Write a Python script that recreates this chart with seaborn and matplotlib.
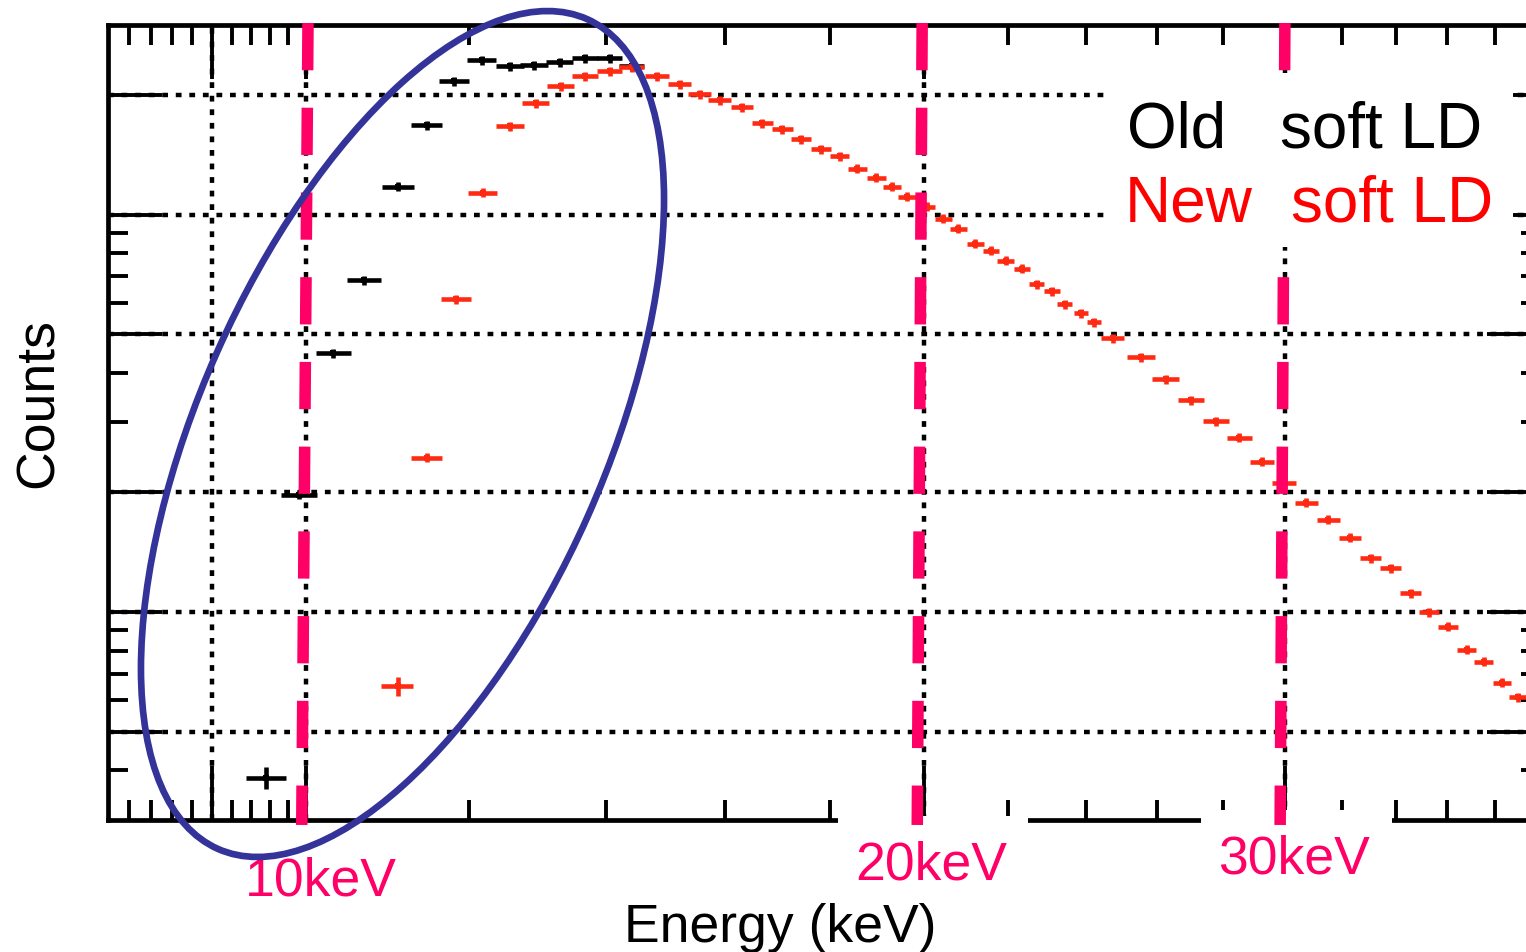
import matplotlib
matplotlib.use("Agg")
import matplotlib.pyplot as plt
from matplotlib.ticker import FixedLocator, NullFormatter
from matplotlib.patches import Ellipse, Rectangle
import pandas as pd
import seaborn as sns

# ---------------- data ----------------
old_energy = [9.56, 9.92, 10.31, 10.67, 11.09, 11.45, 11.81, 12.18, 12.57, 12.92, 13.29, 13.67, 14.06, 14.41]
old_counts = [0.767, 3.95, 8.96, 13.66, 23.49, 33.60, 43.31, 48.89, 47.22, 47.49, 48.32, 49.46, 49.46, 47.22]
old_xerr = [0.21, 0.2, 0.2, 0.2, 0.2, 0.2, 0.2, 0.2, 0.2, 0.2, 0.2, 0.2, 0.2, 0.2]
old_yerr = [0.05, 0.10, 0.23, 0.36, 0.61, 0.87, 1.13, 1.27, 1.23, 1.23, 1.26, 1.29, 1.29, 1.23]

new_energy = [11.08, 11.45, 11.83, 12.19, 12.57, 12.94, 13.31, 13.67, 14.06, 14.41,
              14.83, 15.21, 15.56, 15.91, 16.31, 16.69, 17.07, 17.43, 17.83, 18.20,
              18.57, 18.97, 19.31, 19.64, 20.07, 20.45, 20.80, 21.20, 21.57, 21.93,
              22.33, 22.71, 23.10, 23.44, 23.87, 24.22, 24.74,
              25.53, 26.26, 27.01, 27.78, 28.51, 29.26, 29.99, 30.74, 31.51, 32.30,
              33.04, 33.79, 34.56, 35.27, 36.03, 36.81, 37.52, 38.29, 38.98, 39.78]
new_counts = [1.304, 4.89, 12.24, 22.69, 33.40, 38.14, 42.08, 44.58, 45.88, 46.95,
              44.58, 42.57, 40.18, 38.81, 37.27, 33.98, 32.83, 30.99, 29.25, 28.09,
              26.07, 24.75, 23.49, 22.18, 20.93, 19.53, 18.44, 16.91, 16.24, 15.33,
              14.64, 13.35, 12.82, 11.89, 11.29, 10.72, 9.77,
              8.76, 7.71, 6.83, 6.05, 5.49, 4.78, 4.23, 3.77, 3.42, 3.08,
              2.73, 2.58, 2.23, 2.00, 1.84, 1.61, 1.50, 1.33, 1.22, 1.12]
new_xerr = [0.2, 0.2, 0.2, 0.2, 0.2, 0.2, 0.2, 0.2, 0.2, 0.2,
            0.2, 0.2, 0.2, 0.2, 0.2, 0.2, 0.2, 0.2, 0.2, 0.2,
            0.2, 0.2, 0.2, 0.2, 0.2, 0.2, 0.2, 0.2, 0.2, 0.2,
            0.2, 0.2, 0.2, 0.2, 0.2, 0.2, 0.32,
            0.4, 0.4, 0.4, 0.4, 0.4, 0.4, 0.4, 0.4, 0.4, 0.4,
            0.4, 0.4, 0.4, 0.4, 0.4, 0.4, 0.4, 0.4, 0.4, 0.4]
new_yerr = [0.07, 0.13, 0.32, 0.59, 0.87, 0.99, 1.09, 1.16, 1.19, 1.22,
            1.16, 1.11, 1.04, 1.01, 0.97, 0.88, 0.85, 0.81, 0.76, 0.73,
            0.68, 0.64, 0.61, 0.58, 0.54, 0.51, 0.48, 0.44, 0.42, 0.40,
            0.38, 0.35, 0.33, 0.31, 0.29, 0.28, 0.25,
            0.23, 0.20, 0.18, 0.16, 0.14, 0.12, 0.11, 0.10, 0.09, 0.08,
            0.07, 0.07, 0.06, 0.05, 0.05, 0.04, 0.04, 0.035, 0.03, 0.03]

x_major = [9, 10, 20, 30]
x_minor = [8.2, 8.4, 8.6, 8.8, 9.2, 9.4, 9.6, 9.8, 12, 14, 16, 18, 22, 24, 26, 28, 32, 34, 36, 38]
y_major = [1, 2, 4, 10, 20, 40]
y_minor = [0.8, 1.2, 1.4, 1.6, 1.8, 6, 8, 12, 14, 16, 18]

# hand drawn threshold markers (energy at top / bottom of each dashed line)
marker_labels = ["10keV", "20keV", "30keV"]
marker_top = [10.02, 19.97, 30.01]
marker_bottom = [9.95, 19.86, 29.85]

legend_words = [("Old", "soft LD"), ("New", "soft LD")]

# ---------------- style ----------------
sns.set_style("white")
plt.rcParams['font.family'] = ['Liberation Sans', 'DejaVu Sans']

PINK = "#ff0066"
RED_DATA = "#ff2a12"
NAVY = "#333399"

W, H = 1526, 952
fig = plt.figure(figsize=(W / 100, H / 100), dpi=100)
fig.patch.set_facecolor("white")

ax = fig.add_axes([107.5 / W, (H - 820) / H, 1433.3 / W, 795 / H])
ax.set_xscale("log")
ax.set_yscale("log")
ax.set_xlim(8, 40)
ax.set_ylim(0.6, 60)
ax.set_facecolor("white")

for s in ax.spines.values():
    s.set_color("black")
    s.set_linewidth(3.4)

ax.xaxis.set_major_locator(FixedLocator(x_major))
ax.xaxis.set_minor_locator(FixedLocator(x_minor))
ax.yaxis.set_major_locator(FixedLocator(y_major))
ax.yaxis.set_minor_locator(FixedLocator(y_minor))
for axis in (ax.xaxis, ax.yaxis):
    axis.set_major_formatter(NullFormatter())
    axis.set_minor_formatter(NullFormatter())

ax.tick_params(which="both", direction="in", top=True, right=True, bottom=True, left=True,
               color="black", width=2.8,
               labelbottom=False, labelleft=False, labeltop=False, labelright=False)
ax.tick_params(which="major", length=39)
ax.tick_params(which="minor", length=14.5)

ax.grid(which="major", axis="both", color="black", linewidth=3.2,
        linestyle=(0, (1.3, 1.75)))
ax.set_axisbelow(True)

# ---------------- data ----------------
old_df = pd.DataFrame({"energy": old_energy, "counts": old_counts})
new_df = pd.DataFrame({"energy": new_energy, "counts": new_counts})

ax.errorbar(old_energy, old_counts, xerr=old_xerr, yerr=old_yerr, fmt="none",
            ecolor="black", elinewidth=3.3, capsize=0, zorder=2)
sns.scatterplot(data=old_df, x="energy", y="counts", ax=ax, color="black",
                marker="s", s=16, linewidth=0, zorder=2.1, legend=False)

ax.errorbar(new_energy, new_counts, xerr=new_xerr, yerr=new_yerr, fmt="none",
            ecolor=RED_DATA, elinewidth=3.3, capsize=0, zorder=2.5)
sns.scatterplot(data=new_df, x="energy", y="counts", ax=ax, color=RED_DATA,
                marker="s", s=16, linewidth=0, zorder=2.6, legend=False)

ax.set_xlabel("")
ax.set_ylabel("")

# ---------------- annotations ----------------
def fig_xy(x, y):
    return (x / W, 1 - y / H)

# white boxes under the 20keV / 30keV labels (they cut the bottom spine)
for (x0, y0, x1, y1) in [(838, 816, 1028, 905), (1201, 810, 1392, 900)]:
    r = Rectangle(fig_xy(x0, y1), (x1 - x0) / W, (y1 - y0) / H,
                  transform=fig.transFigure, facecolor="white", edgecolor="none",
                  clip_on=False, zorder=3)
    ax.add_patch(r)

# white legend box
lb = Rectangle(fig_xy(1108, 247), (1513 - 1108) / W, (247 - 73) / H,
               transform=fig.transFigure, facecolor="white", edgecolor="none",
               clip_on=False, zorder=4.5)
ax.add_patch(lb)

# pink dashed threshold lines
for et, eb in zip(marker_top, marker_bottom):
    ax.plot([et, eb], [60.7, 0.583], color=PINK, linewidth=8.3,
            linestyle=(0, (4.1, 3.25)), dash_capstyle="butt",
            clip_on=False, zorder=4)

# axis titles
fig.text(*fig_xy(39, 403.5), "Counts", rotation=90, ha="center", va="center",
         fontsize=38.5, color="black")
fig.text(*fig_xy(780, 942), "Energy (keV)", ha="center", va="baseline",
         fontsize=38.5, color="black")

# threshold labels
for lab, (lx, ly) in zip(marker_labels, [(321, 895), (931, 879), (1294, 873)]):
    fig.text(*fig_xy(lx, ly), lab, ha="center", va="baseline",
             fontsize=38.5, color=PINK, zorder=5)

# legend text
fig.text(*fig_xy(1127, 147), legend_words[0][0], ha="left", va="baseline",
         fontsize=46, color="black", zorder=6)
fig.text(*fig_xy(1280, 147), legend_words[0][1], ha="left", va="baseline",
         fontsize=46, color="black", zorder=6)
fig.text(*fig_xy(1125, 222), legend_words[1][0], ha="left", va="baseline",
         fontsize=46, color="#ff0000", zorder=6)
fig.text(*fig_xy(1291, 222), legend_words[1][1], ha="left", va="baseline",
         fontsize=46, color="#ff0000", zorder=6)

# highlighted region
ell = Ellipse((4.025, 5.18), width=9.082, height=4.054, angle=66,
              transform=fig.dpi_scale_trans, facecolor="none", edgecolor=NAVY,
              linewidth=4.8, zorder=10)
fig.add_artist(ell)

fig.savefig("out.png", dpi=100, facecolor="white")
